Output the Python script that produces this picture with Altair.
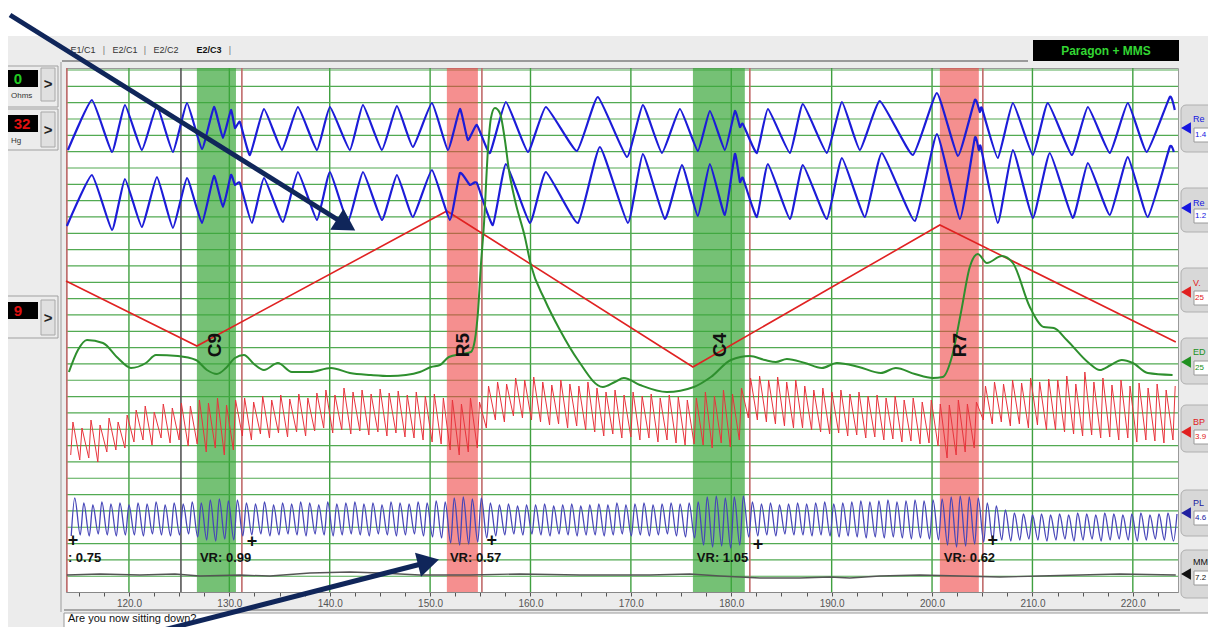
import altair as alt
import pandas as pd

FONT = "Liberation Sans"

# ---------------- values ----------------
# x: seconds on the chart axis, y: trace level in screen rows (top = 68, bottom = 592)
T0, T1 = 113.73, 224.5
Y0, Y1 = 68, 592
W, H = 1112, 524

x_major = [120, 130, 140, 150, 160, 170, 180, 190, 200, 210, 220]
h_rows = [round(70 + 16.33 * k, 2) for k in range(32)]

band_start = [126.77, 151.67, 176.18, 200.78]
band_end = [130.66, 154.76, 181.35, 204.66]
band_color = ["#3aa63a", "#ee4444", "#3aa63a", "#ee4444"]
band_opacity = [0.7, 0.6, 0.7, 0.6]

question_labels = ["C9", "R5", "C4", "R7"]
label_t = [128.57, 153.27, 178.86, 202.77]
label_v = [345, 345, 345, 345]

vr_text = [": 0.75", "VR: 0.99", "VR: 0.57", "VR: 1.05", "VR: 0.62"]
vr_t = [113.92, 127.07, 151.97, 176.57, 201.17]
vr_v = [558, 558, 558, 558, 558]
plus_t = [114.42, 132.25, 156.15, 182.65, 206.05]
plus_v = [541, 542, 541, 545, 541]

answer_marks = [113.82, 131.25, 155.16, 181.85, 205.06]
onset_marks = [125.18]

# red vasomotor zig-zag
vm_t = [113.73, 126.77, 151.67, 176.18, 200.78, 224.28]
vm_v = [281, 346, 211, 367, 225, 342]

# upper pneumo
re1_t = [113.92, 116.31, 118.31, 119.60, 121.29, 122.79, 124.38, 125.78, 127.27, 128.47,
         129.36, 130.16, 130.56, 131.06, 132.05, 133.45, 135.24, 136.83, 138.73, 140.02,
         142.01, 143.31, 145.20, 146.69, 148.29, 150.18, 151.77, 152.97, 153.76, 154.66,
         155.96, 157.55, 159.74, 161.53, 164.62, 166.71, 169.60, 171.19, 173.09, 174.88,
         176.67, 177.87, 179.36, 180.36, 180.86, 181.16, 182.55, 183.65, 185.84, 187.13,
         189.52, 191.02, 192.81, 194.80, 198.09, 200.48, 202.57, 204.26, 204.76, 204.96,
         206.55, 208.05, 210.04, 211.53, 213.92, 215.52, 217.71, 219.50, 221.39, 223.68, 224.18]
re1_v = [150, 100, 152, 105, 150, 106, 152, 103, 149, 107,
         138, 110, 128, 122, 155, 109, 150, 107, 150, 107,
         150, 105, 150, 106, 147, 103, 150, 109, 140, 125,
         153, 102, 152, 107, 151, 97, 157, 105, 153, 109,
         151, 111, 150, 111, 127, 124, 153, 109, 153, 104,
         153, 102, 150, 101, 155, 93, 156, 100, 112, 108,
         158, 103, 155, 103, 155, 107, 153, 103, 152, 97, 110]

# lower pneumo
re2_t = [113.82, 116.31, 118.31, 119.60, 121.29, 122.79, 124.38, 125.78, 127.27, 128.47,
         129.36, 130.16, 130.56, 131.06, 132.25, 133.45, 135.34, 136.83, 138.73, 140.02,
         141.81, 143.31, 145.20, 146.69, 148.29, 150.18, 151.97, 152.97, 153.96, 154.66,
         156.25, 157.55, 159.94, 161.53, 164.72, 166.91, 169.70, 171.19, 173.39, 175.08,
         176.67, 177.87, 179.36, 180.36, 180.86, 181.16, 182.55, 183.65, 185.84, 187.13,
         189.52, 191.02, 193.31, 195.00, 198.29, 200.48, 202.77, 204.26, 204.66, 204.86,
         206.55, 208.05, 210.04, 211.73, 214.02, 215.52, 217.71, 219.50, 221.49, 223.68, 224.08]
re2_v = [226, 175, 230, 179, 227, 177, 228, 178, 223, 176,
         207, 175, 185, 183, 223, 178, 222, 172, 220, 172,
         222, 172, 220, 175, 217, 170, 220, 173, 185, 183,
         225, 164, 223, 172, 223, 147, 223, 154, 219, 165,
         216, 164, 215, 154, 182, 178, 217, 164, 219, 165,
         219, 158, 217, 153, 221, 134, 219, 138, 150, 147,
         223, 150, 218, 153, 218, 163, 215, 157, 217, 147, 152]

# electrodermal
eda_t = [114.02, 114.92, 115.82, 117.41, 118.90, 120.20, 121.69, 122.69, 124.88, 126.67,
         127.77, 128.76, 129.66, 130.56, 131.45, 132.45, 133.45, 134.84, 136.23, 138.03,
         140.12, 142.01, 144.10, 146.00, 147.59, 148.98, 150.08, 150.98, 151.87, 153.17,
         154.06, 154.46, 154.76, 155.06, 155.36, 155.76, 156.06, 156.45, 156.95, 157.45,
         157.85, 158.45, 159.44, 160.04, 161.43, 162.93, 164.72, 167.21, 168.41, 169.30,
         170.90, 173.58, 176.27, 177.97, 179.96, 181.85, 183.35, 184.44, 185.54, 187.33,
         189.02, 190.52, 192.71, 194.90, 196.39, 198.29, 200.08, 201.07, 201.97, 202.87,
         203.76, 204.56, 205.46, 206.95, 208.05, 209.74, 211.13, 212.13, 213.42, 215.62,
         216.71, 217.81, 218.90, 220.00, 221.49, 223.96]
eda_v = [372, 350, 340, 343, 358, 368, 363, 355, 356, 360,
         370, 374, 368, 358, 355, 364, 370, 363, 372, 372,
         368, 373, 375, 376, 375, 372, 367, 365, 357, 354,
         352, 340, 313, 265, 225, 150, 118, 108, 113, 140,
         170, 200, 237, 265, 300, 330, 360, 387, 382, 378,
         385, 392, 387, 377, 360, 356, 360, 362, 359, 363,
         368, 363, 367, 373, 368, 374, 378, 377, 357, 313,
         267, 254, 263, 256, 263, 307, 327, 328, 340, 363,
         370, 365, 360, 363, 373, 375]

# heart beats (cardio and plethysmograph)
beat_t = [114.2, 115.1, 116.0, 116.9, 117.8, 118.7, 119.6, 120.5, 121.4, 122.3,
          123.2, 124.1, 125.0, 125.9, 126.8, 127.7, 128.6, 129.5, 130.4, 131.3,
          132.2, 133.1, 134.0, 134.9, 135.8, 136.7, 137.6, 138.5, 139.4, 140.3,
          141.2, 142.1, 143.0, 143.9, 144.8, 145.7, 146.6, 147.5, 148.4, 149.3,
          150.2, 151.1, 152.0, 152.9, 153.8, 154.7, 155.6, 156.5, 157.4, 158.3,
          159.2, 160.1, 161.0, 161.9, 162.8, 163.7, 164.6, 165.5, 166.4, 167.3,
          168.2, 169.1, 170.0, 170.9, 171.8, 172.7, 173.6, 174.5, 175.4, 176.3,
          177.2, 178.1, 179.0, 179.9, 180.8, 181.7, 182.6, 183.5, 184.4, 185.3,
          186.2, 187.1, 188.0, 188.9, 189.8, 190.7, 191.6, 192.5, 193.4, 194.3,
          195.2, 196.1, 197.0, 197.9, 198.8, 199.7, 200.6, 201.5, 202.4, 203.3,
          204.2, 205.1, 206.0, 206.9, 207.8, 208.7, 209.6, 210.5, 211.4, 212.3,
          213.2, 214.1, 215.0, 215.9, 216.8, 217.7, 218.6, 219.5, 220.4, 221.3,
          222.2, 223.1, 224.0]
bp_top = [422, 428, 420, 425, 418, 422, 415,
          410, 406, 412, 404, 408, 403, 406, 400,
          403, 398, 405, 400,
          398, 402, 396, 400, 395, 399, 394, 398, 393, 390, 395, 388, 392, 390, 394, 389,
          393, 391, 395, 392, 396, 394, 398,
          400, 404, 398, 402,
          386, 382, 384, 378, 380,
          377, 382, 385, 380, 384, 386, 382,
          388, 392, 390, 395, 392, 396, 394, 398, 395, 397, 400, 398,
          392, 396, 390, 394, 388,
          378, 376, 380, 377, 382, 380,
          386, 390, 388, 392, 390, 394, 392, 396, 395, 398, 396, 400, 398, 402, 400, 404,
          405, 400, 404, 402,
          386, 382, 384, 380, 383, 378, 382, 379,
          380, 376, 384, 372, 382, 378, 385, 380, 386, 383, 388, 384, 390, 386]
bp_bot = [455, 460, 458, 462, 452, 450, 448,
          442, 440, 445, 438, 443, 440, 446, 444,
          452, 448, 455, 450,
          436, 440, 434, 438, 433, 437, 432, 436, 431, 428, 433, 430, 434, 431, 435, 432,
          436, 433, 437, 438, 440, 442, 444,
          450, 455, 452, 448,
          428, 420, 422, 416, 418,
          420, 422, 425, 424, 428, 426, 430,
          432, 436, 434, 438, 437, 440, 438, 442, 440, 443, 445, 444,
          445, 448, 443, 447, 440,
          418, 420, 422, 424, 426, 428,
          428, 430, 432, 434, 433, 436, 435, 438, 437, 440, 439, 442, 441, 444, 443, 446,
          458, 455, 452, 448,
          420, 424, 422, 426, 424, 428, 425, 430,
          430, 432, 434, 436, 435, 438, 437, 440, 438, 442, 440, 441, 443, 440]
ple_top = [498, 503, 505, 502, 504, 503, 505,
           503, 504, 502, 505, 503, 504, 502, 503,
           500, 499, 501, 500,
           503, 504, 502, 505, 503, 504, 502, 503, 505, 502, 504, 503, 502, 504, 503, 505,
           502, 503, 504, 502, 503, 501, 502,
           498, 497, 499, 498,
           503, 505, 504, 506, 505,
           505, 504, 506, 505, 504, 506, 505,
           504, 505, 503, 505, 504, 503, 505, 504, 503, 504, 503, 502,
           497, 496, 498, 497, 496,
           502, 504, 503, 505, 504, 503,
           504, 503, 502, 504, 503, 502, 501, 502, 501, 500, 502, 501, 500, 501, 500, 499,
           497, 496, 497, 498,
           503, 506, 510, 513, 514, 515, 514, 515,
           514, 515, 513, 514, 515, 513, 514, 515, 514, 513, 515, 514, 513, 514]
ple_bot = [536, 535, 536, 534, 535, 536, 535,
           535, 536, 534, 535, 536, 535, 534, 537,
           540, 541, 539, 540,
           536, 535, 534, 536, 535, 534, 535, 536, 534, 535, 536, 535, 534, 535, 536, 534,
           535, 536, 535, 534, 536, 537, 538,
           543, 545, 544, 542,
           538, 536, 535, 534, 535,
           534, 535, 536, 534, 535, 536, 535,
           535, 536, 535, 534, 536, 535, 536, 535, 534, 536, 537, 538,
           545, 547, 546, 548, 545,
           537, 536, 535, 536, 534, 535,
           535, 536, 535, 536, 537, 536, 537, 538, 537, 538, 537, 538, 539, 538, 539, 540,
           545, 547, 546, 544,
           542, 541, 540, 541, 540, 539, 540, 541,
           540, 539, 541, 540, 539, 541, 540, 539, 540, 541, 540, 539, 540, 541]

# movement sensor
mms_t = [113.82, 117.11, 121.10, 124.58, 127.07, 131.06, 134.04, 138.03, 142.01, 145.00,
         148.98, 153.96, 158.94, 164.92, 171.89, 175.88, 178.87, 182.85, 186.83, 189.82,
         191.81, 194.80, 198.78, 202.77, 206.75, 210.74, 214.72, 218.70, 224.28]
mms_v = [575, 574, 575, 574, 576, 575, 576, 573, 572, 573,
         575, 575, 574, 575, 575, 574, 576, 578, 578, 577,
         578, 576, 575, 576, 577, 576, 575, 574, 575]

# ---------------- helpers ----------------
def t_of(px):
    """screen pixel column -> seconds (used for the surrounding interface only)"""
    return T0 + (px - 66) * (T1 - T0) / W


xscale = alt.Scale(domain=[T0, T1], nice=False, zero=False)
yscale = alt.Scale(domain=[Y0, Y1], nice=False, zero=False, reverse=True)
tick_vals = [115 + 2.5 * k for k in range(44)]
AX = alt.Axis(values=tick_vals, grid=False, title=None,
              labelExpr="datum.value % 10 == 0 ? format(datum.value, '.1f') : ''",
              labelFont=FONT, labelFontSize=10, labelColor="#555", labelPadding=2,
              tickSize=4, tickColor="#555", domainColor="#888", labelFlush=False)


def X(f):
    return alt.X(f, type="quantitative", scale=xscale, axis=AX)


def Y(f):
    return alt.Y(f, type="quantitative", scale=yscale, axis=None)


def line(ts, vs, color, width, interp="linear", **kw):
    df = pd.DataFrame({"t": ts, "v": vs})
    return alt.Chart(df).mark_line(color=color, strokeWidth=width, interpolate=interp,
                                   **kw).encode(x=X("t"), y=Y("v"))


def rect_layer(rows, **kw):
    df = pd.DataFrame(rows, columns=["x1", "x2", "y1", "y2", "fill", "stroke"])
    df["t1"] = df["x1"].map(t_of)
    df["t2"] = df["x2"].map(t_of)
    return alt.Chart(df).mark_rect(strokeWidth=1, **kw).encode(
        x=X("t1"), x2="t2", y=Y("y1"), y2="y2",
        fill=alt.Fill("fill:N", scale=None), stroke=alt.Stroke("stroke:N", scale=None))


def text_layer(rows, **kw):
    df = pd.DataFrame(rows, columns=["px", "py", "txt", "col"])
    df["t"] = df["px"].map(t_of)
    opts = dict(font=FONT, baseline="middle")
    opts.update(kw)
    return alt.Chart(df).mark_text(**opts).encode(
        x=X("t"), y=Y("py"), text="txt:N", color=alt.Color("col:N", scale=None))


NONE = "transparent"
layers = []

# ---------- interface chrome ----------
layers.append(rect_layer([
    (-10, 1230, -10, 36, "#ffffff", NONE),
    (62, 1028, 60, 62, "#9a9a9a", NONE),
    (1033, 1179, 40, 61, "#000000", NONE),
    (60, 62, 62, 612, "#c4c4c4", NONE),
    (0, 58, 66, 107, "#ececec", "#a0a0a0"),
    (0, 38, 70, 87, "#000000", NONE),
    (41, 55, 68, 101, "#e0e0e0", "#a8a8a8"),
    (0, 58, 109, 150, "#ececec", "#a0a0a0"),
    (0, 38, 115, 132, "#000000", NONE),
    (41, 55, 112, 147, "#e0e0e0", "#a8a8a8"),
    (0, 58, 296, 338, "#ececec", "#a0a0a0"),
    (0, 38, 302, 319, "#000000", NONE),
    (41, 55, 300, 335, "#e0e0e0", "#a8a8a8"),
    (64, 1180, 609, 611, "#a8a8a8", NONE),
    (64, 1230, 613, 645, "#ffffff", "#9a9a9a"),
]))

btn_y = [(105, 152), (188, 232), (268, 312), (338, 384), (405, 452), (490, 536), (550, 598)]
layers.append(rect_layer([(1181, 1230, a, b, "#d8d8d8", "#b0b0b0") for a, b in btn_y],
                         cornerRadius=5))
val_y = [135, 216, 298, 368, 437, 518, 578]
layers.append(rect_layer([(1194, 1230, v - 7, v + 7, "#ffffff", "#9a9a9a") for v in val_y]))

# ---------- grid ----------
layers.append(alt.Chart(pd.DataFrame({"t": x_major})).mark_rule(
    color="#3f9f3f", strokeWidth=1.4).encode(x=X("t")))
layers.append(alt.Chart(pd.DataFrame({"v": h_rows})).mark_rule(
    color="#52aa52", strokeWidth=1.2).encode(y=Y("v")))

# ---------- question bands ----------
bands = pd.DataFrame({"s": band_start, "e": band_end, "c": band_color, "o": band_opacity,
                      "y1": [Y0] * 4, "y2": [Y1] * 4})
layers.append(alt.Chart(bands).mark_rect().encode(
    x=X("s"), x2="e", y=Y("y1"), y2="y2",
    fill=alt.Fill("c:N", scale=None), opacity=alt.Opacity("o:Q", scale=None)))

layers.append(alt.Chart(pd.DataFrame({"t": answer_marks})).mark_rule(
    color="#c06a6a", strokeWidth=1.6).encode(x=X("t")))
layers.append(alt.Chart(pd.DataFrame({"t": onset_marks})).mark_rule(
    color="#555555", strokeWidth=1.6).encode(x=X("t")))

# ---------- traces ----------
layers.append(line(vm_t, vm_v, "#e02222", 1.6))
layers.append(line(re1_t, re1_v, "#1c1cd8", 2.2, "cardinal", tension=0.6))
layers.append(line(re2_t, re2_v, "#1c1cd8", 2.2, "cardinal", tension=0.6))
layers.append(line(eda_t, eda_v, "#2e8f2e", 2.0, "monotone"))

bp_t, bp_v, pl_t, pl_v = [], [], [], []
for t, top, bot, ptop, pbot in zip(beat_t, bp_top, bp_bot, ple_top, ple_bot):
    bp_t += [t, round(t + 0.22, 2)]
    bp_v += [bot, top]
    pl_t += [round(t + 0.05, 2), round(t + 0.4, 2)]
    pl_v += [pbot, ptop]
layers.append(line(bp_t, bp_v, "#e8343c", 1.0))
layers.append(line(pl_t, pl_v, "#4646b8", 1.3, "monotone"))
layers.append(line(mms_t, mms_v, "#555555", 1.3))

# ---------- chart annotations ----------
lab = pd.DataFrame({"t": label_t, "v": label_v, "txt": question_labels})
layers.append(alt.Chart(lab).mark_text(angle=270, font=FONT, fontSize=19, fontWeight="bold",
                                       color="#111", baseline="middle").encode(
    x=X("t"), y=Y("v"), text="txt:N"))
vr = pd.DataFrame({"t": vr_t, "v": vr_v, "txt": vr_text})
layers.append(alt.Chart(vr).mark_text(font=FONT, fontSize=13, fontWeight="bold", color="#111",
                                      align="left", baseline="middle").encode(
    x=X("t"), y=Y("v"), text="txt:N"))
pl = pd.DataFrame({"t": plus_t, "v": plus_v, "txt": ["+"] * len(plus_t)})
layers.append(alt.Chart(pl).mark_text(font=FONT, fontSize=18, fontWeight="bold", color="#111",
                                      baseline="middle").encode(
    x=X("t"), y=Y("v"), text="txt:N"))

# ---------- interface text ----------
layers.append(text_layer([
    (83, 50, "E1/C1", "#333"), (104, 50, "|", "#777"), (125, 50, "E2/C1", "#333"),
    (145, 50, "|", "#777"), (166, 50, "E2/C2", "#333"), (230, 50, "|", "#777"),
], fontSize=9))
layers.append(text_layer([(209, 50, "E2/C3", "#111")], fontSize=9, fontWeight="bold"))
layers.append(text_layer([(1106, 51, "Paragon + MMS", "#33d633")], fontSize=12,
                         fontWeight="bold"))
layers.append(text_layer([
    (18, 79, "0", "#22cc22"), (22, 124, "32", "#e01010"), (18, 311, "9", "#e01010"),
    (48, 84, ">", "#222"), (48, 130, ">", "#222"), (48, 318, ">", "#222"),
], fontSize=15, fontWeight="bold"))
layers.append(text_layer([(11, 96, "Ohms", "#333"), (11, 141, "Hg", "#333")],
                         fontSize=8, align="left"))
right_lab = [("Re", 119, "#1515e0"), ("Re", 203, "#1515e0"), ("V.", 283, "#e02020"),
             ("ED", 352, "#209020"), ("BP", 422, "#e02020"), ("PL", 503, "#2020a0"),
             ("MM", 562, "#111111")]
right_val = ["1.4", "1.2", "25", "25", "3.9", "4.6", "7.2"]
layers.append(text_layer([(1193, y, s, c) for s, y, c in right_lab], fontSize=9,
                         align="left"))
layers.append(text_layer([(1195, vy, s, c) for (n, y, c), s, vy in
                          zip(right_lab, right_val, val_y)], fontSize=8, align="left"))
tri = pd.DataFrame({"t": [t_of(1186)] * 7, "v": [128, 208, 292, 362, 432, 513, 574],
                    "c": [c for _, _, c in right_lab]})
layers.append(alt.Chart(tri).mark_point(shape="triangle-left", filled=True, size=130,
                                        opacity=1).encode(
    x=X("t"), y=Y("v"), color=alt.Color("c:N", scale=None)))
layers.append(text_layer([(68, 619, "Are you now sitting down?", "#111")], fontSize=11,
                         align="left"))

# ---------- pointer arrows ----------
arrows = pd.DataFrame({"x1": [10, 105], "y1": [15, 645], "x2": [343, 425], "y2": [223, 563],
                       "ang": [122, 76]})
arrows["t1"] = arrows["x1"].map(t_of)
arrows["t2"] = arrows["x2"].map(t_of)
layers.append(alt.Chart(arrows).mark_rule(color="#10265a", strokeWidth=5).encode(
    x=X("t1"), x2="t2", y=Y("y1"), y2="y2"))
layers.append(alt.Chart(arrows).mark_point(shape="triangle", filled=True, size=620,
                                           color="#10265a", opacity=1).encode(
    x=X("t2"), y=Y("y2"), angle=alt.Angle("ang:Q", scale=None)))

chart = alt.layer(*layers).properties(
    width=W, height=H,
    padding={"left": 58, "top": 60, "right": 30, "bottom": 35},
    autosize=alt.AutoSizeParams(type="none"),
    background="#ececec",
).configure_view(fill="white", stroke="#9a9a9a", strokeWidth=1)

chart.save("out.html", embed_options={"renderer": "svg", "actions": False})
